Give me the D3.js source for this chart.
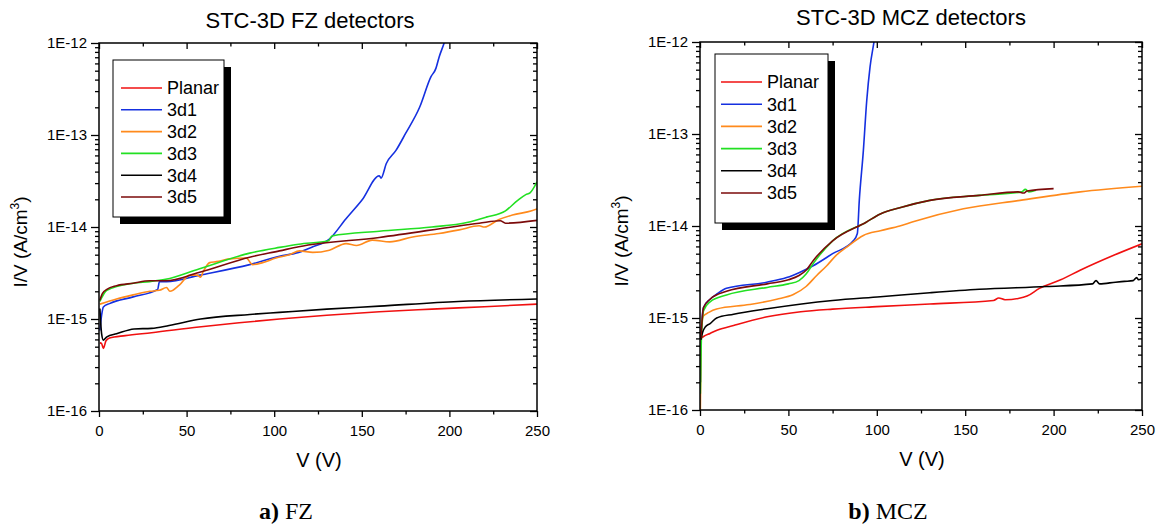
<!DOCTYPE html>
<html>
<head>
<meta charset="utf-8">
<script src="https://cdn.jsdelivr.net/npm/d3@7"></script>
<style>
  body { margin: 0; background: #fff; }
  svg { display: block; font-family: "Liberation Sans", Arial, sans-serif; }
</style>
</head>
<body>
<svg id="drawing_region" width="1162" height="528"></svg>
<script>
// series names + colours (Origin style)
const series_names = ['Planar', '3d1', '3d2', '3d3', '3d4', '3d5'];
const series_colors = ['#f01010', '#1530e0', '#ff8a1c', '#22e022', '#000000', '#7b0a0a'];

const x_ticks = [0, 50, 100, 150, 200, 250];
const x_minor = [25, 75, 125, 175, 225];
const y_ticks = [1e-16, 1e-15, 1e-14, 1e-13, 1e-12];
const y_tick_labels = ['1E-16', '1E-15', '1E-14', '1E-13', '1E-12'];

// FZ detectors: [V, I/V]
const fz_planar = [[0.5,5.5e-16],[1.5,5.4e-16],[2.5,4.8e-16],[4,5.8e-16],[6,6.2e-16],[15,6.6e-16],[30,7.1e-16],[57,8.2e-16],[80,9.1e-16],[103,1.0e-15],[130,1.1e-15],[160,1.2e-15],[190,1.28e-15],[220,1.36e-15],[250,1.45e-15]];
const fz_3d1 = [[0.5,7.5e-16],[1.5,1.1e-15],[2.5,1.35e-15],[6,1.47e-15],[19.5,1.74e-15],[33.5,2.1e-15],[34.5,2.55e-15],[38.5,2.55e-15],[57.5,3.0e-15],[86,3.9e-15],[103,4.8e-15],[114,5.3e-15],[122,6.1e-15],[131.5,7.4e-15],[141,1.23e-14],[150,1.95e-14],[160,3.6e-14],[161,3.4e-14],[164,4.9e-14],[169.5,6.8e-14],[175,1.04e-13],[183,2.0e-13],[189.5,4.3e-13],[192.3,5.3e-13],[194.2,7.1e-13],[197,1.0e-12],[198,1.15e-12]];
const fz_3d2 = [[0.5,1.45e-15],[10,1.65e-15],[19.5,1.83e-15],[29,2.0e-15],[34.5,2.05e-15],[38.5,2.2e-15],[40.5,2.0e-15],[46,2.35e-15],[51.8,3.0e-15],[56,3.0e-15],[58,2.85e-15],[59.4,3.25e-15],[63.2,4.1e-15],[67,4.2e-15],[74.6,4.5e-15],[84,4.6e-15],[87.7,3.9e-15],[93.4,4.1e-15],[101,4.6e-15],[108.7,5.0e-15],[114.5,5.5e-15],[122,5.3e-15],[131.5,5.6e-15],[141,6.6e-15],[147,6.3e-15],[156,7.2e-15],[166,6.9e-15],[179,7.8e-15],[194,8.5e-15],[205.6,9.3e-15],[217,1.03e-14],[220,1.0e-14],[228,1.2e-14],[236,1.35e-14],[247,1.5e-14],[250,1.57e-14]];
const fz_3d3 = [[0.5,1.55e-15],[4.5,2.05e-15],[19.5,2.45e-15],[29,2.55e-15],[38,2.7e-15],[57,3.5e-15],[86,5.2e-15],[103,6.0e-15],[114,6.5e-15],[131,7.1e-15],[133,8.0e-15],[160,9.0e-15],[190,1.0e-14],[210,1.12e-14],[221,1.28e-14],[232,1.5e-14],[239,1.95e-14],[243.6,2.25e-14],[246,2.35e-14],[250,3.1e-14]];
const fz_3d4 = [[0.5,1.3e-15],[1.5,6.9e-16],[2.5,5.9e-16],[4.5,6.4e-16],[10,6.9e-16],[20,7.8e-16],[30,7.9e-16],[40,8.5e-16],[58,1.0e-15],[86,1.12e-15],[103,1.18e-15],[130,1.28e-15],[160,1.38e-15],[205,1.55e-15],[250,1.65e-15]];
const fz_3d5 = [[0.5,1.6e-15],[2,1.9e-15],[4.5,2.1e-15],[10,2.3e-15],[19.5,2.45e-15],[29,2.6e-15],[38,2.6e-15],[57,3.2e-15],[86,4.7e-15],[103,5.5e-15],[114,6.1e-15],[160,7.7e-15],[217,1.1e-14],[229,1.17e-14],[232,1.1e-14],[250,1.18e-14]];

// MCZ detectors: [V, I/V]
const mcz_planar = [[0.5,6.0e-16],[2,6.3e-16],[5.7,6.8e-16],[10,7.4e-16],[19,8.3e-16],[38,1.03e-15],[57,1.17e-15],[75,1.25e-15],[100,1.33e-15],[130,1.42e-15],[166,1.55e-15],[169,1.65e-15],[172.5,1.58e-15],[180,1.63e-15],[185,1.73e-15],[192,2.1e-15],[204,2.6e-15],[215,3.3e-15],[234,4.8e-15],[250,6.4e-15]];
const mcz_3d1 = [[0.3,2e-16],[0.6,6e-16],[2,1.3e-15],[5.7,1.6e-15],[10,1.85e-15],[15,2.1e-15],[37.7,2.45e-15],[49,2.75e-15],[56.6,3.15e-15],[64,3.7e-15],[75,5.0e-15],[86.7,6.9e-15],[89,8.3e-15],[90.1,1.9e-14],[92.4,6.6e-14],[94.3,2.3e-13],[96.2,5.4e-13],[98.4,1.0e-12],[99,1.2e-12]];
const mcz_3d2 = [[0.2,1e-16],[0.6,5e-16],[1,8.5e-16],[1.9,1.05e-15],[5,1.15e-15],[9.4,1.25e-15],[28,1.4e-15],[43.4,1.6e-15],[52.8,1.8e-15],[60,2.2e-15],[66,2.9e-15],[71.7,3.7e-15],[77,4.8e-15],[83,5.9e-15],[92.4,7.9e-15],[102,8.9e-15],[113,1.0e-14],[121,1.12e-14],[149,1.54e-14],[181,1.9e-14],[215,2.35e-14],[250,2.7e-14]];
const mcz_3d3 = [[0.2,1.5e-16],[0.8,6e-16],[2,1.2e-15],[5.7,1.5e-15],[15,1.78e-15],[38,2.15e-15],[50,2.35e-15],[56,2.55e-15],[60,3.0e-15],[64,3.9e-15],[75,6.9e-15],[94,1.1e-14],[102,1.35e-14],[113,1.58e-14],[130,1.9e-14],[158,2.15e-14],[182,2.35e-14],[184,2.5e-14],[186,2.35e-14],[190,2.45e-14]];
const mcz_3d4 = [[0.5,5.8e-16],[1.5,7e-16],[3,8.0e-16],[5.7,8.7e-16],[9.4,1.0e-15],[19,1.1e-15],[38,1.26e-15],[75,1.55e-15],[102,1.7e-15],[130,1.88e-15],[158,2.05e-15],[196,2.2e-15],[222,2.35e-15],[224,2.55e-15],[226,2.35e-15],[235,2.45e-15],[240,2.5e-15],[245,2.55e-15],[247,2.75e-15],[248,2.6e-15],[250,2.7e-15]];
const mcz_3d5 = [[0.5,6e-16],[2,1.3e-15],[5.7,1.6e-15],[15,1.95e-15],[38,2.35e-15],[50,2.6e-15],[56,2.9e-15],[60,3.3e-15],[64,4.2e-15],[75,6.9e-15],[94,1.1e-14],[102,1.35e-14],[113,1.58e-14],[130,1.9e-14],[158,2.15e-14],[180,2.35e-14],[183,2.28e-14],[185,2.4e-14],[200,2.55e-14]];

class IVPlot {

    constructor(config, series) {
        this.config = config;
        this.series = series;
        this.init();
    }

    init() {
        let self = this;
        const c = self.config;

        self.svg = d3.select(c.parent);
        self.chart = self.svg.append('g');

        self.xscale = d3.scaleLinear()
            .domain([0, 250])
            .range([c.left, c.right]);

        self.yscale = d3.scaleLog()
            .domain([1e-16, 1e-12])
            .range([c.bottom, c.top]);

        // minor ticks of a log axis: 2..9 of each decade
        self.y_minor = [];
        for (let e = -16; e < -12; e++) {
            for (let m = 2; m <= 9; m++) self.y_minor.push(m * Math.pow(10, e));
        }
    }

    render() {
        let self = this;
        const c = self.config;
        const font = '"Liberation Sans", Arial, sans-serif';

        // title
        self.chart.append('text')
            .attr('x', c.title_x)
            .attr('y', c.title_y)
            .attr('text-anchor', 'middle')
            .attr('font-size', 22)
            .text(c.title);

        const axis = (gen, tx, ty, labels) => {
            const g = self.chart.append('g')
                .attr('transform', `translate(${tx},${ty})`)
                .call(gen);
            g.select('.domain').remove();
            g.selectAll('line').attr('stroke', '#000').attr('stroke-width', 1.3);
            g.selectAll('text')
                .attr('font-family', font)
                .attr('font-size', 15)
                .attr('fill', '#000');
            if (!labels) g.selectAll('text').remove();
            return g;
        };

        // bottom (outward) + top (inward)
        axis(d3.axisBottom(self.xscale).tickValues(x_ticks).tickSize(6).tickPadding(8).tickSizeOuter(0), 0, c.bottom, true);
        axis(d3.axisBottom(self.xscale).tickValues(x_minor).tickSize(3.5).tickSizeOuter(0), 0, c.bottom, false);
        axis(d3.axisTop(self.xscale).tickValues(x_ticks).tickSize(-6).tickSizeOuter(0), 0, c.top, false);
        axis(d3.axisTop(self.xscale).tickValues(x_minor).tickSize(-3.5).tickSizeOuter(0), 0, c.top, false);

        // left (outward) + right (inward)
        axis(d3.axisLeft(self.yscale).tickValues(y_ticks)
            .tickFormat((d, i) => y_tick_labels[i]).tickSize(8).tickPadding(4).tickSizeOuter(0), c.left, 0, true);
        axis(d3.axisLeft(self.yscale).tickValues(self.y_minor).tickSize(4).tickSizeOuter(0), c.left, 0, false);
        axis(d3.axisRight(self.yscale).tickValues(y_ticks).tickSize(-7).tickSizeOuter(0), c.right, 0, false);
        axis(d3.axisRight(self.yscale).tickValues(self.y_minor).tickSize(-4).tickSizeOuter(0), c.right, 0, false);

        // curves
        const clip_id = 'clip_' + c.name;
        self.chart.append('clipPath').attr('id', clip_id)
            .append('rect')
            .attr('x', c.left).attr('y', c.top)
            .attr('width', c.right - c.left).attr('height', c.bottom - c.top);

        const line = d3.line()
            .x(d => self.xscale(d[0]))
            .y(d => self.yscale(d[1]))
            .curve(d3.curveMonotoneX);

        self.chart.append('g')
            .attr('clip-path', `url(#${clip_id})`)
            .selectAll('path')
            .data(self.series)
            .join('path')
            .attr('d', d => line(d))
            .attr('fill', 'none')
            .attr('stroke', (d, i) => series_colors[i])
            .attr('stroke-width', 1.6)
            .attr('stroke-linejoin', 'round');

        // frame
        self.chart.append('rect')
            .attr('x', c.left).attr('y', c.top)
            .attr('width', c.right - c.left).attr('height', c.bottom - c.top)
            .attr('fill', 'none')
            .attr('stroke', '#000')
            .attr('stroke-width', 1.5);

        // axis titles
        self.chart.append('text')
            .attr('x', (c.left + c.right) / 2 + 1)
            .attr('y', c.bottom + 56)
            .attr('text-anchor', 'middle')
            .attr('font-size', 20)
            .text('V (V)');

        const ylab = self.chart.append('text')
            .attr('transform', `translate(${c.left - 72},${(c.top + c.bottom) / 2 + 15}) rotate(-90)`)
            .attr('text-anchor', 'middle')
            .attr('font-size', 19);
        ylab.append('tspan').text('I/V (A/cm');
        ylab.append('tspan').attr('font-size', 12).attr('dy', -8).text('3');
        ylab.append('tspan').attr('dy', 8).text(')');

        // legend with drop shadow
        const lg = c.legend;
        self.chart.append('rect')
            .attr('x', lg.x + 7).attr('y', lg.y + 7)
            .attr('width', lg.w).attr('height', lg.h)
            .attr('fill', '#000');
        self.chart.append('rect')
            .attr('x', lg.x).attr('y', lg.y)
            .attr('width', lg.w).attr('height', lg.h)
            .attr('fill', '#fff')
            .attr('stroke', '#000')
            .attr('stroke-width', 1);

        const rows = self.chart.append('g')
            .selectAll('g')
            .data(series_names)
            .join('g')
            .attr('transform', (d, i) => `translate(${lg.line_x},${lg.row0 + i * lg.dy})`);
        rows.append('line')
            .attr('x1', 0).attr('x2', 41)
            .attr('stroke', (d, i) => series_colors[i])
            .attr('stroke-width', 1.6);
        rows.append('text')
            .attr('x', 46)
            .attr('dy', '0.36em')
            .attr('font-size', 18)
            .text(d => d);

        // caption below the panel
        const cap = self.chart.append('text')
            .attr('x', c.caption_x)
            .attr('y', 519)
            .attr('text-anchor', 'middle')
            .attr('font-family', '"Liberation Serif", "Times New Roman", serif')
            .attr('font-size', 24);
        cap.append('tspan').attr('font-weight', 'bold').text(c.caption_letter);
        cap.append('tspan').text(c.caption);
    }
}

const fz_plot = new IVPlot({
    parent: '#drawing_region', name: 'fz',
    left: 99, right: 537, top: 43, bottom: 411,
    title: 'STC-3D FZ detectors', title_x: 310, title_y: 28,
    caption_letter: 'a)', caption: '\u00a0FZ', caption_x: 286,
    legend: { x: 113, y: 60, w: 111, h: 157, row0: 88, dy: 21.8, line_x: 121 }
}, [fz_planar, fz_3d1, fz_3d2, fz_3d3, fz_3d4, fz_3d5]);
fz_plot.render();

const mcz_plot = new IVPlot({
    parent: '#drawing_region', name: 'mcz',
    left: 700, right: 1142, top: 42, bottom: 410,
    title: 'STC-3D MCZ detectors', title_x: 911, title_y: 25,
    caption_letter: 'b)', caption: '\u00a0MCZ', caption_x: 888,
    legend: { x: 715, y: 54, w: 113, h: 169, row0: 82, dy: 22.2, line_x: 721 }
}, [mcz_planar, mcz_3d1, mcz_3d2, mcz_3d3, mcz_3d4, mcz_3d5]);
mcz_plot.render();
</script>
</body>
</html>
